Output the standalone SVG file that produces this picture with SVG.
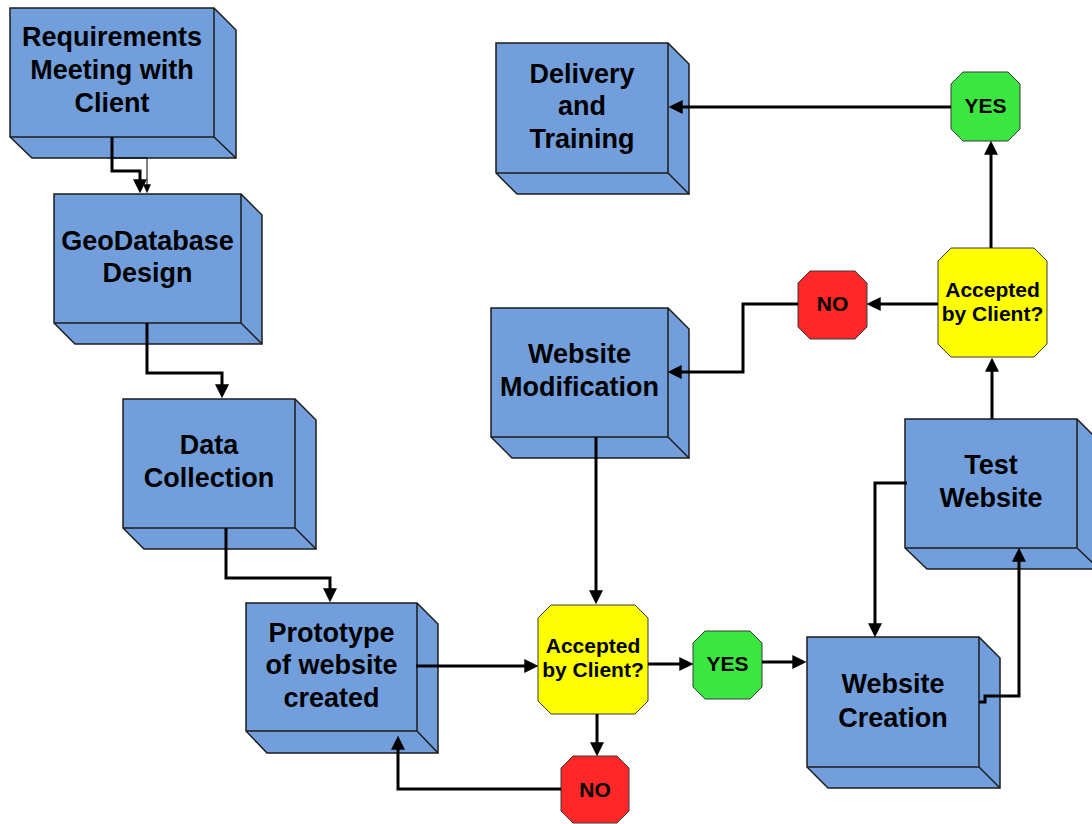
<svg xmlns="http://www.w3.org/2000/svg" width="1092" height="824" viewBox="0 0 1092 824">
  <style>
    .box path.shell { fill: #729fdb; stroke: #1c1c1c; stroke-width: 1.5; stroke-linejoin: miter; }
    .box path.edge { fill: none; stroke: #1c1c1c; stroke-width: 1.5; }
    .label { font-family: "Liberation Sans", Arial, sans-serif; font-weight: bold; font-size: 27px; fill: #000; text-anchor: middle; }
    .oct { stroke: #3a3a3a; stroke-width: 1; }
    .oct-text { font-family: "Liberation Sans", Arial, sans-serif; font-weight: bold; font-size: 21px; fill: #000; text-anchor: middle; }
    .yes { fill: #3ce641; }
    .no { fill: #ff2727; }
    .ask { fill: #ffff00; }
    .wire { fill: none; stroke: #000; stroke-width: 3; stroke-linejoin: miter; marker-end: url(#head); }
    .wire-thin { fill: none; stroke: #000; stroke-width: 1; marker-end: url(#head-small); }
  </style>
  <defs>
    <marker id="head" markerUnits="userSpaceOnUse" markerWidth="14" markerHeight="14" viewBox="0 0 13 13" refX="9" refY="6.5" orient="auto">
      <path d="M0,0 L13,6.5 L0,13 Z" fill="#000"/>
    </marker>
    <marker id="head-small" markerUnits="userSpaceOnUse" markerWidth="9" markerHeight="8" viewBox="0 0 8 7" refX="6" refY="3.5" orient="auto">
      <path d="M0,0 L8,3.5 L0,7 Z" fill="#000"/>
    </marker>
  </defs>

  <!-- process boxes: front face plus right and bottom depth faces -->
  <g id="requirements" class="box">
    <path class="shell" d="M10,8 H214 L236,30 V158 H32 L10,137 Z"/>
    <path class="edge" d="M214,8 V137 H10 M214,137 L236,158"/>
    <text class="label" x="112" y="46">Requirements</text>
    <text class="label" x="112" y="79">Meeting with</text>
    <text class="label" x="112" y="112">Client</text>
  </g>

  <g id="geodatabase" class="box">
    <path class="shell" d="M54,194 H241 L262,215 V344 H75 L54,323 Z"/>
    <path class="edge" d="M241,194 V323 H54 M241,323 L262,344"/>
    <text class="label" x="147.5" y="250">GeoDatabase</text>
    <text class="label" x="147.5" y="282">Design</text>
  </g>

  <g id="data-collection" class="box">
    <path class="shell" d="M123,399 H295 L316,420 V549 H144 L123,528 Z"/>
    <path class="edge" d="M295,399 V528 H123 M295,528 L316,549"/>
    <text class="label" x="209" y="454">Data</text>
    <text class="label" x="209" y="487">Collection</text>
  </g>

  <g id="prototype" class="box">
    <path class="shell" d="M246,603 H417 L438,624 V753 H267 L246,731 Z"/>
    <path class="edge" d="M417,603 V731 H246 M417,731 L438,753"/>
    <text class="label" x="331.5" y="642">Prototype</text>
    <text class="label" x="331.5" y="674">of website</text>
    <text class="label" x="331.5" y="707">created</text>
  </g>

  <g id="website-modification" class="box">
    <path class="shell" d="M491,308 H668 L689,329 V458 H512 L491,437 Z"/>
    <path class="edge" d="M668,308 V437 H491 M668,437 L689,458"/>
    <text class="label" x="579.5" y="363">Website</text>
    <text class="label" x="579.5" y="396">Modification</text>
  </g>

  <g id="delivery-training" class="box">
    <path class="shell" d="M496,43 H668 L689,64 V194 H517 L496,173 Z"/>
    <path class="edge" d="M668,43 V173 H496 M668,173 L689,194"/>
    <text class="label" x="582" y="83">Delivery</text>
    <text class="label" x="582" y="115">and</text>
    <text class="label" x="582" y="148">Training</text>
  </g>

  <g id="test-website" class="box">
    <path class="shell" d="M905,419 H1077 L1099,441 V569 H927 L905,548 Z"/>
    <path class="edge" d="M1077,419 V548 H905 M1077,548 L1099,569"/>
    <text class="label" x="991" y="474">Test</text>
    <text class="label" x="991" y="507">Website</text>
  </g>

  <g id="website-creation" class="box">
    <path class="shell" d="M807,637 H979 L1000,658 V788 H828 L807,767 Z"/>
    <path class="edge" d="M979,637 V767 H807 M979,767 L1000,788"/>
    <text class="label" x="893" y="693">Website</text>
    <text class="label" x="893" y="727">Creation</text>
  </g>

  <!-- decision and outcome octagons -->
  <g id="accepted-lower">
    <path class="oct ask" d="M551,605 H635 L648,618 V701 L635,714 H551 L538,701 V618 Z"/>
    <text class="oct-text" x="593" y="653">Accepted</text>
    <text class="oct-text" x="593" y="677">by Client?</text>
  </g>

  <g id="yes-lower">
    <path class="oct yes" d="M705,631 H750 L762,643 V687 L750,699 H705 L693,687 V643 Z"/>
    <text class="oct-text" x="727.5" y="671">YES</text>
  </g>

  <g id="no-lower">
    <path class="oct no" d="M573,756 H617 L629,768 V811 L617,823 H573 L561,811 V768 Z"/>
    <text class="oct-text" x="595" y="797">NO</text>
  </g>

  <g id="accepted-upper">
    <path class="oct ask" d="M951,248 H1034 L1047,261 V344 L1034,357 H951 L938,344 V261 Z"/>
    <text class="oct-text" x="992.5" y="297">Accepted</text>
    <text class="oct-text" x="992.5" y="321">by Client?</text>
  </g>

  <g id="no-upper">
    <path class="oct no" d="M810,271 H855 L867,283 V327 L855,339 H810 L798,327 V283 Z"/>
    <text class="oct-text" x="832.5" y="311">NO</text>
  </g>

  <g id="yes-upper">
    <path class="oct yes" d="M963,72 H1008 L1020,84 V129 L1008,141 H963 L951,129 V84 Z"/>
    <text class="oct-text" x="985.5" y="113">YES</text>
  </g>

  <!-- connectors, drawn over the box faces they touch -->
  <g id="connectors">
    <path class="wire-thin" d="M113,158 H147 V191"/>
    <path class="wire" d="M112,137 V171 H140 V189"/>
    <path class="wire" d="M147,323 V373 H222 V394"/>
    <path class="wire" d="M226,528 V578 H330 V598"/>
    <path class="wire" d="M416,666 H534"/>
    <path class="wire" d="M648,664 H689"/>
    <path class="wire" d="M762,662 H802"/>
    <path class="wire" d="M597,714 V752"/>
    <path class="wire" d="M561,789 H398 V740"/>
    <path class="wire" d="M596,437 V600"/>
    <path class="wire" d="M979,702 H985 V696 H1019 V552"/>
    <path class="wire" d="M907,483 H875 V633"/>
    <path class="wire" d="M992,419 V362"/>
    <path class="wire" d="M938,304 H871"/>
    <path class="wire" d="M798,304 H743 V372 H672"/>
    <path class="wire" d="M991,248 V145"/>
    <path class="wire" d="M951,107 H673"/>
  </g>
</svg>
